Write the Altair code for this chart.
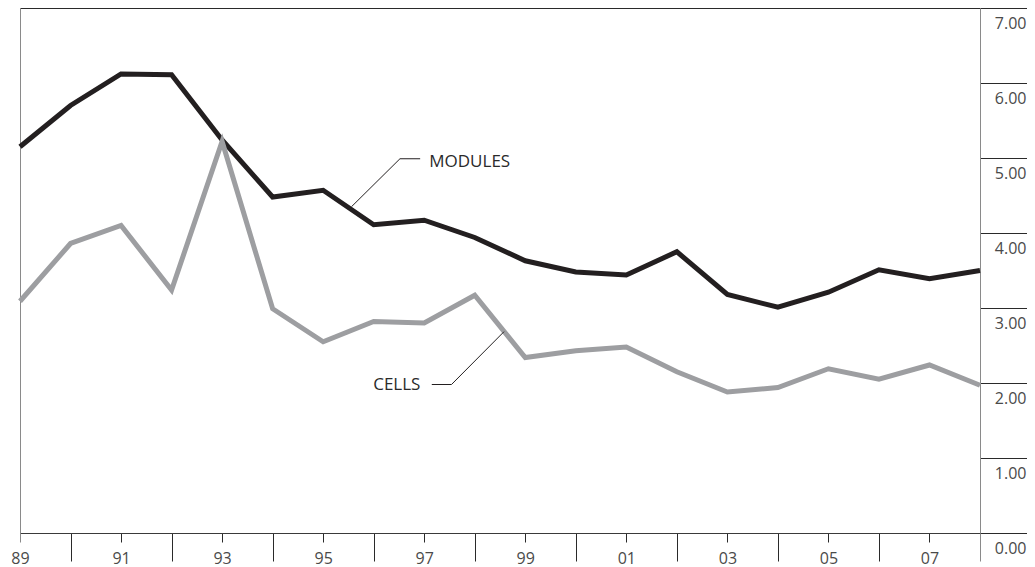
import altair as alt
import pandas as pd

# ---- data ----
years = list(range(1989, 2009))
modules = [5.15, 5.70, 6.12, 6.11, 5.24, 4.48, 4.57, 4.11, 4.17, 3.94,
           3.63, 3.48, 3.44, 3.75, 3.18, 3.01, 3.21, 3.51, 3.39, 3.50]
cells = [3.09, 3.86, 4.10, 3.24, 5.22, 2.99, 2.55, 2.82, 2.80, 3.17,
         2.34, 2.43, 2.48, 2.15, 1.88, 1.94, 2.19, 2.05, 2.24, 1.97]
series_names = ["MODULES", "CELLS"]
y_ticks = [0, 1, 2, 3, 4, 5, 6, 7]

# annotation labels and their leader lines (in data units)
ann_text = ["MODULES", "CELLS"]
ann_x = [1997.10, 1995.99]
ann_y = [4.95, 1.98]
leader_id = ["m", "m", "m", "c", "c", "c"]
leader_x = [1995.56, 1996.52, 1996.92, 1998.58, 1997.54, 1997.15]
leader_y = [4.35, 4.99, 4.99, 2.685, 1.98, 1.98]
leader_order = [0, 1, 2, 0, 1, 2]

df = pd.DataFrame({
    "year": years * 2,
    "value": modules + cells,
    "series": [series_names[0]] * len(years) + [series_names[1]] * len(years),
})
ann_df = pd.DataFrame({"label": ann_text, "x": ann_x, "y": ann_y})
lead_df = pd.DataFrame({"id": leader_id, "x": leader_x, "y": leader_y, "o": leader_order})

FONT = "Open Sans"
DARK = "#231f20"
GRAY = "#9d9ea1"
AXGRAY = "#8a8a8a"

xs = alt.Scale(domain=[1989, 2008], nice=False, zero=False)
ys = alt.Scale(domain=[0, 7], nice=False, zero=True)

x_bottom = alt.Axis(
    orient="bottom", values=years, title=None, grid=False,
    domainColor="#3a3a3a", domainWidth=1,
    tickSize={"condition": {"test": "datum.value % 2 == 0", "value": 28}, "value": 9},
    tickColor={"condition": {"test": "datum.value == 1989 || datum.value == 2008", "value": AXGRAY}, "value": "#2a2a2a"},
    tickWidth=1,
    labelExpr="datum.value % 2 == 1 ? substring(toString(datum.value), 2, 4) : ''",
    labelFont=FONT, labelFontSize=16, labelColor="#4a4a4a",
    labelPadding=8, labelFlush=False, labelOverlap=False, labelBound=False,
)
y_right = alt.Axis(
    orient="right", values=y_ticks, title=None, grid=False,
    domainColor=AXGRAY, domainWidth=1,
    tickSize=47, tickColor="#2a2a2a", tickWidth=1,
    format=".2f", labelAlign="right", labelBaseline="top",
    labelPadding=-1, labelOffset=7,
    labelFont=FONT, labelFontSize=16, labelColor="#4a4a4a",
    labelFlush=False, labelOverlap=False, labelBound=False,
)
x_top = alt.Axis(orient="top", title=None, grid=False, ticks=False, labels=False,
                 domainColor="#2a2a2a", domainWidth=1)
y_left = alt.Axis(orient="left", title=None, grid=False, ticks=False, labels=False,
                  domainColor=AXGRAY, domainWidth=1)

lines = alt.Chart(df).mark_line(strokeWidth=5, strokeJoin="miter").encode(
    x=alt.X("year:Q", scale=xs, axis=x_bottom),
    y=alt.Y("value:Q", scale=ys, axis=y_right),
    color=alt.Color("series:N", scale=alt.Scale(domain=series_names, range=[DARK, GRAY]), legend=None),
    order=alt.Order("year:Q"),
)

leaders = alt.Chart(lead_df).mark_line(strokeWidth=1, color=DARK).encode(
    x=alt.X("x:Q", scale=xs, axis=x_top),
    y=alt.Y("y:Q", scale=ys, axis=y_left),
    detail="id:N",
    order=alt.Order("o:Q"),
)

labels = alt.Chart(ann_df).mark_text(
    align="left", baseline="middle", font=FONT, fontSize=17, color="#2a2a2a"
).encode(
    x=alt.X("x:Q", scale=xs, axis=None),
    y=alt.Y("y:Q", scale=ys, axis=None),
    text="label:N",
)

chart = alt.layer(lines, leaders, labels).resolve_axis(
    x="independent", y="independent"
).properties(
    width=960, height=525,
    autosize=alt.AutoSizeParams(type="none"),
    padding={"left": 12, "top": 0, "right": 47, "bottom": 34},
).configure_view(stroke=None).configure(background="white")

chart.save("out.html", embed_options={"renderer": "svg", "actions": False})
